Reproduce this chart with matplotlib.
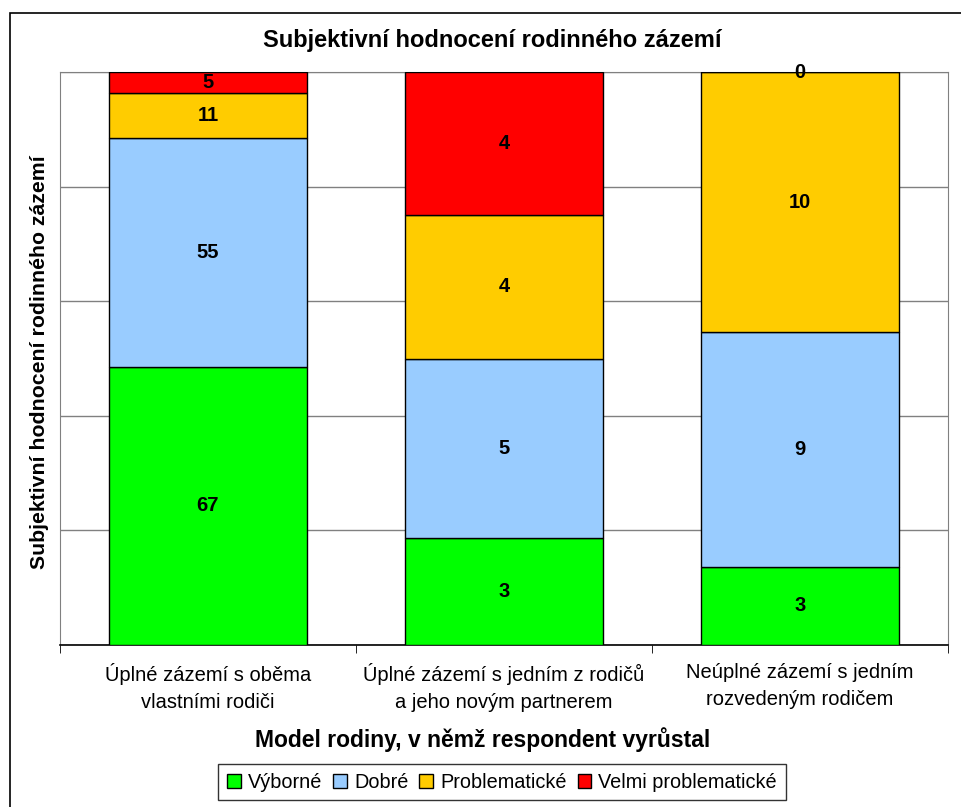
import matplotlib.pyplot as plt
import matplotlib.patches as mpatches
import numpy as np

plt.rcParams['font.family'] = ['Liberation Sans', 'DejaVu Sans']

categories = ["Úplné zázemí s oběma\nvlastními rodiči",
              "Úplné zázemí s jedním z rodičů\na jeho novým partnerem",
              "Neúplné zázemí s jedním\nrozvedeným rodičem"]
series = ["Výborné", "Dobré", "Problematické", "Velmi problematické"]
vyborne = [67, 3, 3]
dobre = [55, 5, 9]
problematicke = [11, 4, 10]
velmi = [5, 4, 0]
colors = ["#00FF00", "#99CCFF", "#FFCC00", "#FF0000"]

values = np.array([vyborne, dobre, problematicke, velmi], dtype=float)
totals = values.sum(axis=0)
shares = values / totals

fig = plt.figure(figsize=(9.62, 8.07), dpi=100)
ax = fig.add_axes([60/962, 1 - 645/807, 888/962, 573/807])

# outer chart border
fig.patches.append(mpatches.Rectangle((10/962, -0.1), 1.2, 1 - 13/807 + 0.1,
                                      transform=fig.transFigure, fill=False,
                                      edgecolor="black", linewidth=1.2))

x = np.arange(len(categories))
bottom = np.zeros(len(categories))
for i, name in enumerate(series):
    ax.bar(x, shares[i], bottom=bottom, width=0.667, color=colors[i],
           edgecolor="black", linewidth=1.0, label=name, zorder=3)
    for j in range(len(categories)):
        ax.text(x[j], bottom[j] + shares[i][j] / 2, f"{int(values[i][j])}",
                ha="center", va="center", fontsize=14.5, fontweight="bold", zorder=4)
    bottom += shares[i]

ax.set_xlim(-0.5, 2.5)
ax.set_ylim(0, 1)
ax.set_yticks(np.arange(0, 1.01, 0.2))
ax.set_yticklabels([])
ax.tick_params(axis="y", length=0)
ax.yaxis.grid(True, color="#808080", linewidth=1.0, zorder=0)
ax.set_xticks(x)
ax.set_xticklabels(categories, fontsize=14.5, linespacing=1.5)
ax.set_xticks([-0.5, 0.5, 1.5, 2.5], minor=True)
ax.tick_params(axis="x", which="major", length=0, pad=13)
ax.tick_params(axis="x", which="minor", length=6, color="black", direction="out")
for s in ["left", "right", "top"]:
    ax.spines[s].set_color("#808080")
ax.spines["bottom"].set_color("black")
ax.spines["bottom"].set_linewidth(1.2)

fig.text(492/962, 1 - 40/807, "Subjektivní hodnocení rodinného zázemí",
         ha="center", va="center", fontsize=17, fontweight="bold")
fig.text(483/962, 1 - 740/807, "Model rodiny, v němž respondent vyrůstal",
         ha="center", va="center", fontsize=16.5, fontweight="bold")
fig.text(40/962, 1 - 362/807, "Subjektivní hodnocení rodinného zázemí",
         ha="center", va="center", rotation=90, fontsize=15.3, fontweight="bold")

leg = fig.legend(loc="center", bbox_to_anchor=(502/962, 1 - 782/807), ncol=4,
                 frameon=True, fancybox=False, edgecolor="black", fontsize=14.3,
                 handlelength=0.7, handleheight=0.7, handletextpad=0.35,
                 columnspacing=0.55, borderpad=0.45)
leg.get_frame().set_linewidth(1.0)

fig.savefig("out.png", dpi=100)
